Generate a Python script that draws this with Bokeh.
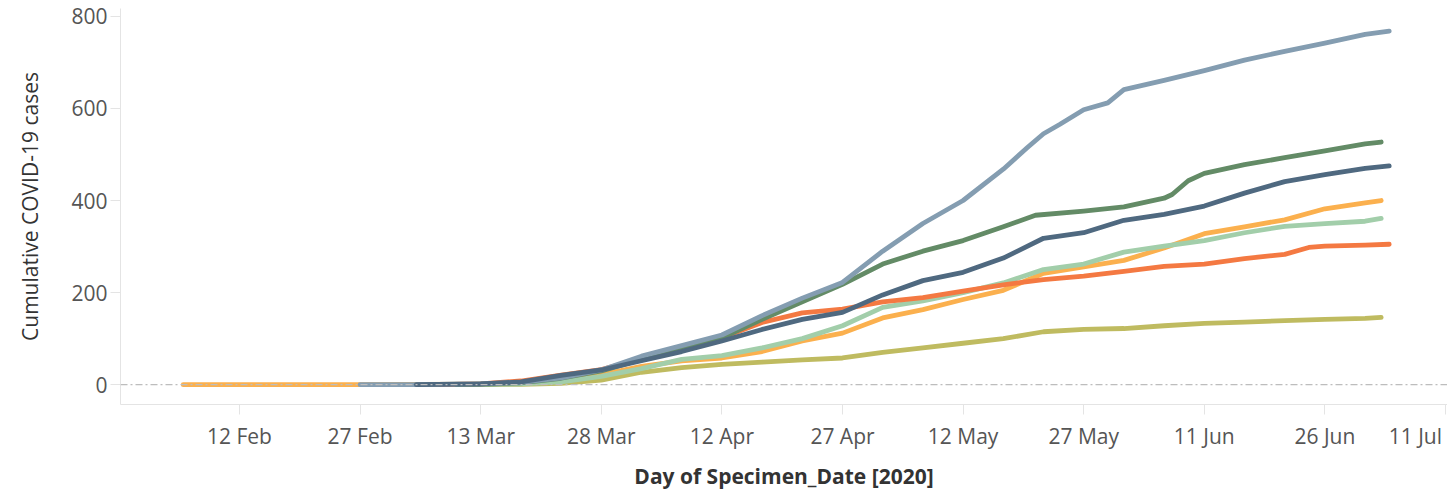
import pandas as pd
from bokeh.plotting import figure
from bokeh.models import Range1d, FixedTicker, Span, ColumnDataSource
from bokeh.embed import file_html
from bokeh.resources import INLINE

YEAR = "2020-"

# ---- data ----
olive_dates = ["03-14", "03-18", "03-23", "03-28", "04-02", "04-07", "04-12", "04-17", "04-22", "04-27",
               "05-02", "05-07", "05-12", "05-17", "05-22", "05-27", "06-01", "06-06", "06-11", "06-16",
               "06-21", "06-26", "07-01", "07-03"]
olive_cases = [0, 1, 3, 10, 27, 37, 44, 49, 54, 58, 70, 80, 90, 100, 115, 120, 122, 128, 133, 136, 139, 142, 144, 146]

orange_dates = ["02-05", "02-27", "03-13", "03-18", "03-23", "03-28", "04-02", "04-07", "04-12", "04-17",
                "04-22", "04-27", "05-02", "05-07", "05-12", "05-17", "05-22", "05-27", "06-01", "06-06",
                "06-11", "06-16", "06-21", "06-26", "07-01", "07-03"]
orange_cases = [0, 0, 1, 3, 8, 22, 40, 52, 58, 72, 95, 112, 145, 163, 185, 205, 242, 256, 270, 297,
                328, 343, 358, 382, 395, 400]

lightgreen_dates = ["03-12", "03-18", "03-23", "03-28", "04-02", "04-07", "04-12", "04-17", "04-22", "04-27",
                    "05-02", "05-07", "05-12", "05-17", "05-22", "05-27", "06-01", "06-06", "06-11", "06-16",
                    "06-21", "06-26", "07-01", "07-03"]
lightgreen_cases = [0, 2, 6, 18, 35, 55, 63, 80, 100, 128, 168, 182, 200, 221, 250, 262, 288, 301, 313, 330,
                    344, 350, 355, 361]

red_dates = ["03-08", "03-13", "03-18", "03-23", "03-28", "04-02", "04-07", "04-12", "04-17", "04-22",
             "04-27", "05-02", "05-07", "05-12", "05-17", "05-22", "05-27", "06-01", "06-06", "06-11",
             "06-16", "06-21", "06-24", "06-26", "07-01", "07-04"]
red_cases = [0, 2, 8, 21, 33, 56, 80, 102, 135, 156, 164, 180, 189, 203, 217, 228, 236, 246, 257, 262,
             274, 283, 298, 301, 303, 305]

green_dates = ["03-10", "03-13", "03-18", "03-23", "03-28", "04-02", "04-07", "04-12", "04-17", "04-22",
               "04-27", "05-02", "05-07", "05-12", "05-17", "05-21", "05-27", "06-01", "06-06", "06-07",
               "06-09", "06-11", "06-16", "06-21", "06-26", "07-01", "07-03"]
green_cases = [0, 1, 4, 14, 30, 55, 80, 102, 142, 180, 218, 262, 290, 313, 343, 368, 377, 386, 405, 413,
               443, 459, 478, 493, 508, 523, 527]

steel_dates = ["02-27", "03-05", "03-13", "03-18", "03-23", "03-28", "04-02", "04-07", "04-12", "04-17",
               "04-22", "04-27", "05-02", "05-07", "05-12", "05-17", "05-20", "05-22", "05-24", "05-27",
               "05-30", "06-01", "06-06", "06-11", "06-16", "06-21", "06-26", "07-01", "07-04"]
steel_cases = [0, 0, 2, 5, 15, 32, 62, 85, 108, 150, 188, 222, 290, 350, 400, 468, 515, 545, 565, 597,
               612, 641, 661, 682, 705, 724, 742, 761, 768]

navy_dates = ["03-05", "03-13", "03-18", "03-23", "03-28", "04-02", "04-07", "04-12", "04-17", "04-22",
              "04-27", "05-02", "05-07", "05-12", "05-17", "05-22", "05-27", "06-01", "06-06", "06-11",
              "06-16", "06-21", "06-26", "07-01", "07-04"]
navy_cases = [0, 2, 6, 20, 32, 52, 72, 95, 120, 142, 157, 195, 226, 244, 275, 318, 330, 357, 370, 388,
              416, 441, 456, 470, 475]

tick_dates = ["02-12", "02-27", "03-13", "03-28", "04-12", "04-27", "05-12", "05-27", "06-11", "06-26", "07-11"]
tick_labels = ["12 Feb", "27 Feb", "13 Mar", "28 Mar", "12 Apr", "27 Apr", "12 May", "27 May", "11 Jun", "26 Jun", "11 Jul"]
y_ticks = [0, 200, 400, 600, 800]

series = [
    ("olive", olive_dates, olive_cases, "#bfbb60"),
    ("orange", orange_dates, orange_cases, "#fbb04e"),
    ("lightgreen", lightgreen_dates, lightgreen_cases, "#a2ceaa"),
    ("red", red_dates, red_cases, "#f47942"),
    ("green", green_dates, green_cases, "#638b66"),
    ("steel", steel_dates, steel_cases, "#849db1"),
    ("navy", navy_dates, navy_cases, "#4f6980"),
]

def to_dt(ds):
    return pd.to_datetime([YEAR + d for d in ds])

def ms(ts):
    return ts.value / 1e6

DAY = 86400000.0
ref = pd.Timestamp(YEAR + "02-12")
x_start = ms(ref) - 14.8 * DAY
x_end = ms(ref) + 150.25 * DAY
Y0, Y1 = -43, 817

FONT = "Open Sans"
FS = "21px"

p = figure(width=1447, height=492, output_backend="svg", toolbar_location=None,
           x_axis_type="datetime",
           x_range=Range1d(x_start, x_end), y_range=Range1d(Y0, Y1),
           min_border_left=120, min_border_right=0, min_border_top=8, min_border_bottom=84)
p.outline_line_color = None
p.xgrid.visible = False
p.ygrid.visible = False
p.background_fill_color = "white"
p.border_fill_color = "white"

p.add_layout(Span(location=0, dimension="width", line_color="#bdbdbd", line_width=1.2,
                  line_dash="7 3 2 3"))

for name, ds, vs, col in series:
    src = ColumnDataSource(dict(date=to_dt(ds), cases=vs))
    p.line("date", "cases", source=src, line_color=col, line_width=4.8,
           line_join="round", line_cap="round")

tick_ms = [ms(pd.Timestamp(YEAR + d)) for d in tick_dates]
xa = p.xaxis[0]
xa.ticker = FixedTicker(ticks=tick_ms)
# labels come from the tick_labels list; the last one is padded on its right
# so that it sits inside the pane edge, as in the original
overrides = {t: lab for t, lab in zip(tick_ms, tick_labels)}
overrides[tick_ms[-1]] = tick_labels[-1] + "\u00a0"
xa.major_label_overrides = overrides
xa.axis_label = "Day of Specimen_Date [2020]"
xa.axis_label_text_font = FONT
xa.axis_label_text_font_style = "bold"
xa.axis_label_text_font_size = FS
xa.axis_label_text_color = "#333333"
xa.axis_label_standoff = 9
xa.major_label_text_font = FONT
xa.major_label_text_font_size = FS
xa.major_label_text_color = "#555555"
xa.major_label_standoff = 7
xa.axis_line_color = "#e4e4e4"
xa.major_tick_line_color = "#e4e4e4"
xa.major_tick_out = 10
xa.major_tick_in = 0
xa.minor_tick_line_color = None

ya = p.yaxis[0]
ya.ticker = FixedTicker(ticks=y_ticks)
ya.axis_label = "Cumulative COVID-19 cases"
ya.axis_label_text_font = FONT
ya.axis_label_text_font_style = "normal"
ya.axis_label_text_font_size = FS
ya.axis_label_text_color = "#333333"
ya.axis_label_standoff = 24
ya.major_label_text_font = FONT
ya.major_label_text_font_size = FS
ya.major_label_text_color = "#555555"
ya.major_label_standoff = 3
ya.axis_line_color = "#e4e4e4"
ya.major_tick_line_color = "#e4e4e4"
ya.major_tick_out = 10
ya.major_tick_in = 0
ya.minor_tick_line_color = None

open("out.html", "w").write(file_html(p, INLINE))
